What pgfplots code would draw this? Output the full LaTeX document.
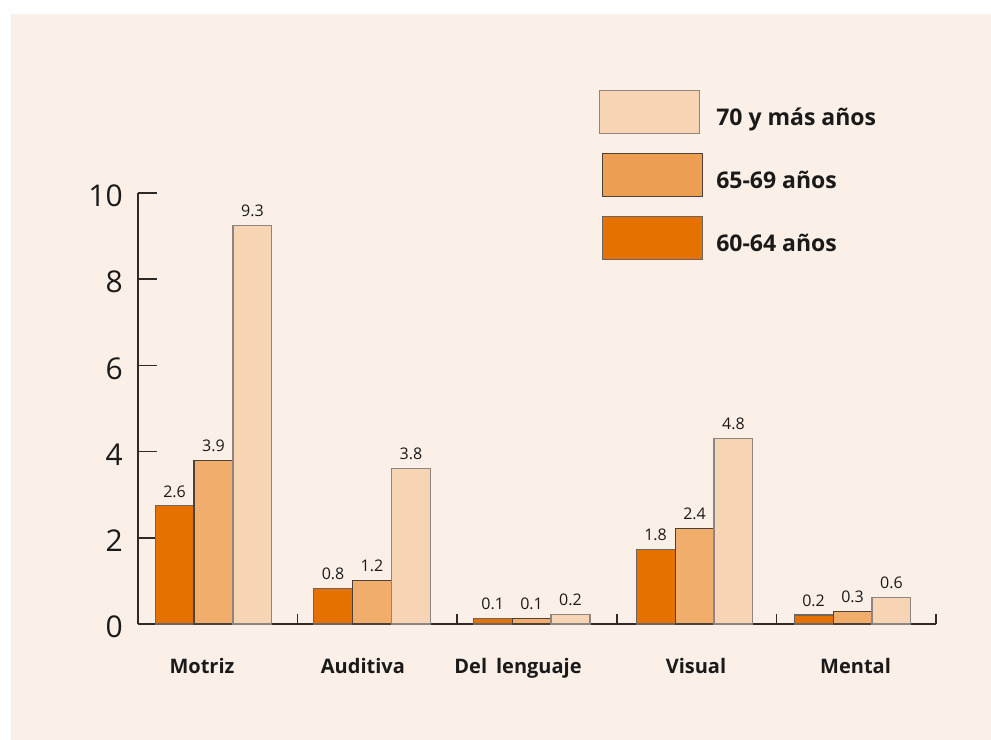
\documentclass[border=0pt]{standalone}
\usepackage{pgfplots}
\pgfplotsset{compat=1.18}
\usepackage{fontspec}
\setmainfont{Open Sans}
\definecolor{bg}{HTML}{FBF0E7}
\definecolor{cA}{HTML}{E57200}
\definecolor{cB}{HTML}{F0AD6C}
\definecolor{cC}{HTML}{F7D4B4}
\definecolor{lB}{HTML}{EE9E52}
\definecolor{bA}{HTML}{6E6560}
\definecolor{bB}{HTML}{4D4038}
\definecolor{bC}{HTML}{8C8581}
\definecolor{axc}{HTML}{2F2A28}
\definecolor{txt}{HTML}{1A1A1A}
\pgfplotsset{boxlegend/.style={legend image code/.code={\draw[##1] (0bp,-16bp) rectangle (100bp,27bp);}},
  boxlegendS/.style={legend image code/.code={\draw[##1] (3bp,-16bp) rectangle (103bp,27bp);}},
  boxlegendB/.style={legend image code/.code={\draw[##1,fill=lB] (3bp,-16bp) rectangle (103bp,27bp);}}}
\begin{document}
\begin{tikzpicture}
\fill[white] (0bp,0bp) rectangle (991bp,-740bp);
\fill[bg] (11bp,-14bp) rectangle (991bp,-740bp);
\useasboundingbox (0bp,0bp) rectangle (991bp,-740bp);
\begin{axis}[
  at={(138bp,-624bp)}, anchor=south west,
  scale only axis, width=798bp, height=431bp,
  xmin=0, xmax=5, ymin=0, ymax=10,
  axis x line=bottom, axis y line=left,
  axis line style={-, draw=axc, line width=1.6bp},
  tick align=inside,
  major tick length=19bp,
  tick style={draw=axc, line width=1.6bp},
  xtick={0.401,1.409,2.381,3.496,4.496},
  xticklabels={Motriz,Auditiva,Del\hspace{0.45em}lenguaje,Visual,Mental},
  xtick style={draw=none},
  xticklabel style={font=\bfseries\fontsize{20bp}{24bp}\selectfont, text=txt, inner sep=0pt, yshift=-15bp},
  extra x ticks={1,2,3,4,5},
  extra x tick labels={},
  extra x tick style={tick align=inside, major tick length=10bp, xtick style={draw=axc, line width=1.6bp}},
  ytick={0,2,4,6,8,10},
  yticklabel style={font=\fontsize{30bp}{36bp}\selectfont, text=txt, inner sep=0pt, xshift=-15bp, yshift=-3bp},
  /pgf/number format/assume math mode=true,
  ybar=0pt, bar width=0.244, bar shift=0pt,
  point meta=explicit symbolic,
  nodes near coords,
  nodes near coords style={font=\fontsize{16bp}{19bp}\selectfont, text=txt, anchor=south, inner sep=0pt, yshift=8bp},
  reverse legend,
  legend style={at={(0.5777,1.239)}, anchor=north west, draw=none, fill=none,
    inner sep=0pt, row sep=19bp, column sep=13bp,
    nodes={inner sep=0pt},
    font=\bfseries\fontsize{23bp}{27bp}\selectfont, text=txt},
  legend cell align=left,
  clip=false,
]
\addplot[fill=cA, draw=bA, line width=1.1bp, boxlegendS]
  coordinates {(0.229,2.74)[2.6] (1.222,0.83)[0.8] (2.222,0.13)[0.1] (3.243,1.73)[1.8] (4.233,0.21)[0.2]};
\addlegendentry{60-64 años}
\addplot[fill=cB, draw=bB, line width=1.1bp, boxlegendB]
  coordinates {(0.473,3.80)[3.9] (1.466,1.01)[1.2] (2.466,0.13)[0.1] (3.487,2.22)[2.4] (4.477,0.30)[0.3]};
\addlegendentry{65-69 años}
\addplot[fill=cC, draw=bC, line width=1.1bp, boxlegend]
  coordinates {(0.717,9.24)[9.3] (1.710,3.61)[3.8] (2.710,0.23)[0.2] (3.731,4.31)[4.8] (4.721,0.61)[0.6]};
\addlegendentry{70 y más años}
\end{axis}
\end{tikzpicture}
\end{document}
